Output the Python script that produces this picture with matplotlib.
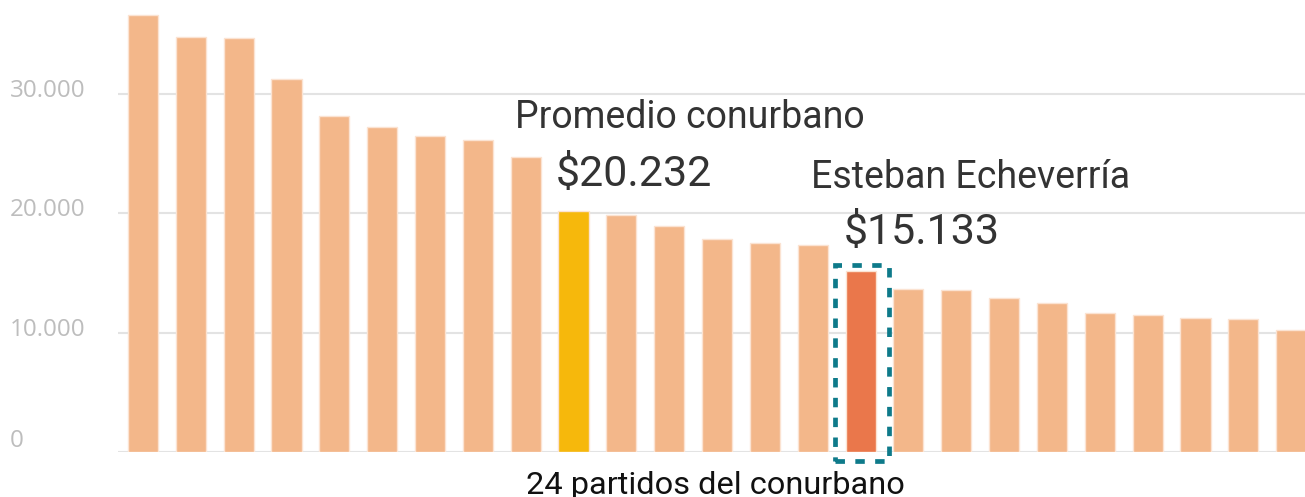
import matplotlib.pyplot as plt
from matplotlib.patches import Rectangle

# gasto por habitante, 24 partidos + promedio (ordenado)
valores = [36630, 34790, 34700, 31270, 28160, 27240, 26490, 26150, 24730,
           20232, 19870, 18940, 17850, 17520, 17350, 15133, 13660, 13580,
           12910, 12490, 11650, 11480, 11230, 11150, 10230]
idx_promedio = 9
idx_echeverria = 15
yticks = [0, 10000, 20000, 30000]
ytick_labels = ['0', '10.000', '20.000', '30.000']

base = '#F3B78A'
colores = [base] * len(valores)
colores[idx_promedio] = '#F6B80C'
colores[idx_echeverria] = '#EA774B'

fig = plt.figure(figsize=(13.05, 4.97), dpi=100)
ax = fig.add_axes([118 / 1305, 45 / 497, (1305 - 118) / 1305, 452 / 497])

x = range(len(valores))
ax.bar(x, valores, width=0.63, color=colores, edgecolor='#FBE3D2', linewidth=1, zorder=3)

ax.set_xlim(-0.523, 24.29)
ax.set_ylim(0, 37890)
ax.set_yticks(yticks)
ax.set_yticklabels([])
ax.set_xticks([])
ax.grid(axis='y', color='#E3E3E3', linewidth=1.5, zorder=0)
ax.tick_params(length=0)
for s in ax.spines.values():
    s.set_visible(False)

# tick labels, left aligned at figure edge
for v, lab in zip(yticks, ytick_labels):
    dy = 5 if v == 0 else -3
    ax.annotate(lab, xy=(0, v), xycoords=('figure pixels', 'data'),
                xytext=(10, dy), textcoords='offset pixels',
                ha='left', va='baseline', fontsize=17.4, color='#BDBDBD',
                family='Open Sans')

# caja punteada alrededor de Esteban Echeverría
caja = Rectangle((idx_echeverria - 0.535, -713), 1.13, 16390,
                 fill=False, edgecolor='#0E7A8A', linewidth=3.4,
                 linestyle=(0, (2.0, 2.2)), clip_on=False, zorder=4)
ax.add_patch(caja)

txt = dict(family='Roboto', color='#333333', ha='center')
ax.text(11.42, 28000, 'Promedio conurbano', fontsize=27, va='center', **txt)
ax.text(10.27, 23300, '$20.232', fontsize=31, va='center', **txt)
ax.text(17.29, 23000, 'Esteban Echeverría', fontsize=27, va='center', **txt)
ax.text(16.28, 18400, '$15.133', fontsize=31, va='center', **txt)

fig.text(715 / 1305, 12 / 497, '24 partidos del conurbano', fontsize=23.4,
         family='Roboto', color='#111111', ha='center', va='center')

plt.savefig('out.png', dpi=100)
